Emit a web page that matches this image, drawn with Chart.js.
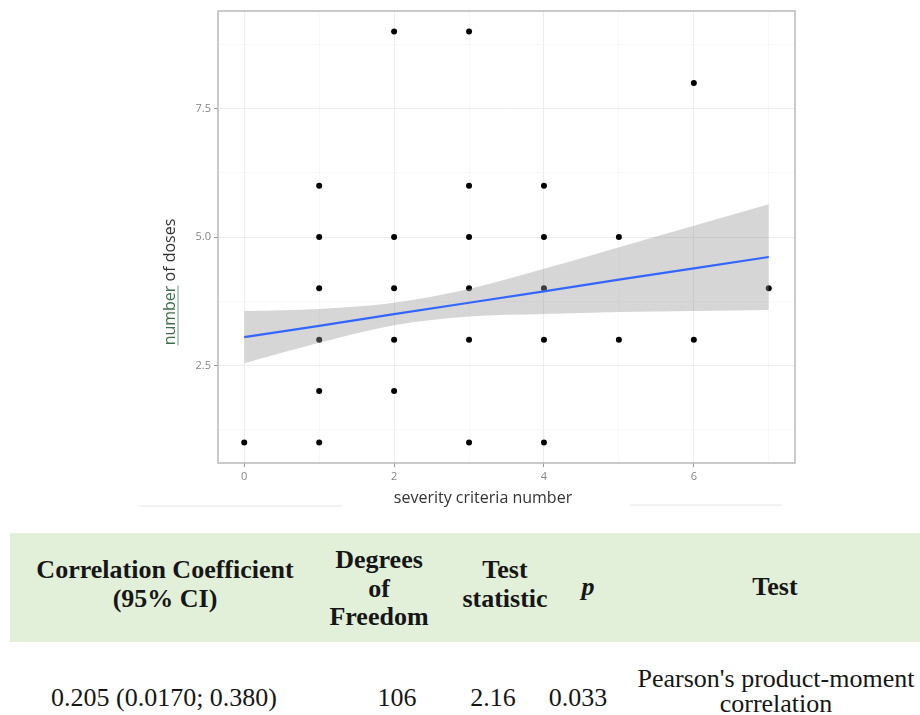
<!DOCTYPE html>
<html>
<head>
<meta charset="utf-8">
<script src="https://cdn.jsdelivr.net/npm/chart.js@4.4.1/dist/chart.umd.min.js"></script>
<style>
  html, body { margin:0; padding:0; background:#fff; width:920px; height:715px; overflow:hidden; position:relative; }
  #chartBox { position:absolute; left:0; top:0; width:920px; height:520px; }
  .band { position:absolute; left:10px; top:533px; width:910px; height:109px; background:#e2f0d9; }
  .cell { position:absolute; font-family:"Liberation Serif","Times New Roman",serif; font-size:26px; line-height:28.5px;
          color:#161616; text-align:center; white-space:nowrap; transform:translateX(-50%); }
  .hd { font-weight:bold; }
</style>
</head>
<body>
<div id="chartBox"><canvas id="scatterChart" width="920" height="520"></canvas></div>

<div class="band"></div>
<div class="cell hd" style="left:165px;top:556px">Correlation Coefficient<br>(95% CI)</div>
<div class="cell hd" style="left:379px;top:546px">Degrees<br>of<br>Freedom</div>
<div class="cell hd" style="left:505px;top:556px">Test<br>statistic</div>
<div class="cell hd" style="left:588px;top:573px"><i>p</i></div>
<div class="cell hd" style="left:775px;top:573px">Test</div>

<div class="cell" style="left:164px;top:684px">0.205 (0.0170; 0.380)</div>
<div class="cell" style="left:397px;top:684px">106</div>
<div class="cell" style="left:493px;top:684px">2.16</div>
<div class="cell" style="left:578px;top:684px">0.033</div>
<div class="cell" style="left:776px;top:667px;line-height:24.7px">Pearson's product-moment<br>correlation</div>

<script>
// observed points (overplotted duplicates shown once)
const severity = [0, 1,1,1,1,1,1, 2,2,2,2,2, 3,3,3,3,3,3, 4,4,4,4,4, 5,5, 6,6, 7];
const doses    = [1, 6,5,4,3,2,1, 9,5,4,3,2, 9,6,5,4,3,1, 6,5,4,3,1, 5,3, 8,3, 4];

// linear fit and 95% band
const fitX    = [0, 1, 2, 3, 4, 5, 6, 7];
const fitY    = [3.05, 3.27, 3.50, 3.72, 3.94, 4.17, 4.39, 4.61];
const lowerCI = [2.54, 2.94, 3.28, 3.45, 3.50, 3.54, 3.56, 3.58];
const upperCI = [3.56, 3.60, 3.72, 3.99, 4.38, 4.80, 5.22, 5.64];

const xTickValues = [0, 1, 2, 3, 4, 5, 6, 7];
const xTickLabels = ['0', '', '2', '', '4', '', '6', ''];
const yTickValues = [1.25, 2.5, 3.75, 5, 6.25, 7.5, 8.75];
const yTickLabels = ['', '2.5', '', '5.0', '', '7.5', ''];

const toXY = (xs, ys) => xs.map((x, i) => ({ x, y: ys[i] }));

const panelDeco = {
  id: 'panelDeco',
  afterDatasetsDraw(chart) {
    const { ctx, chartArea: a } = chart;
    ctx.save();
    ctx.strokeStyle = '#b4b4b4';
    ctx.lineWidth = 1.4;
    ctx.strokeRect(a.left, a.top, a.right - a.left, a.bottom - a.top);
    ctx.restore();
  },
  afterDraw(chart) {
    const ctx = chart.ctx;
    ctx.save();
    ctx.font = '16px "Open Sans"';
    ctx.textBaseline = 'middle';
    ctx.fillStyle = '#333';
    ctx.textAlign = 'center';
    ctx.fillText('severity criteria number', 483, 498);

    // rotated y title, first word marked green
    ctx.translate(170, 282);
    ctx.rotate(-Math.PI / 2);
    const w1 = ctx.measureText('number').width;
    const w2 = ctx.measureText(' of doses').width;
    const x0 = -(w1 + w2) / 2;
    ctx.textAlign = 'left';
    ctx.fillStyle = '#3f6e4c';
    ctx.fillText('number', x0, 0);
    ctx.fillStyle = '#333';
    ctx.fillText(' of doses', x0 + w1, 0);
    ctx.strokeStyle = '#6fa07c';
    ctx.lineWidth = 1;
    ctx.beginPath();
    ctx.moveTo(x0, 8); ctx.lineTo(x0 + w1, 8);
    ctx.stroke();
    ctx.restore();

    // faint leftover rules under the plot
    ctx.save();
    ctx.strokeStyle = '#e4e4e4';
    ctx.lineWidth = 1;
    ctx.beginPath();
    ctx.moveTo(140, 506); ctx.lineTo(342, 506);
    ctx.moveTo(630, 505); ctx.lineTo(782, 505);
    ctx.stroke();
    ctx.restore();
  }
};

new Chart(document.getElementById('scatterChart'), {
  type: 'scatter',
  data: {
    datasets: [
      {
        label: 'upper', data: toXY(fitX, upperCI), showLine: true, borderWidth: 0, pointRadius: 0,
        cubicInterpolationMode: 'monotone', fill: '+1', backgroundColor: 'rgba(153,153,153,0.4)', order: 3
      },
      {
        label: 'lower', data: toXY(fitX, lowerCI), showLine: true, borderWidth: 0, pointRadius: 0,
        cubicInterpolationMode: 'monotone', fill: false, order: 3
      },
      {
        label: 'fit', data: toXY(fitX, fitY), showLine: true, borderColor: '#3366FF', borderWidth: 2.2,
        pointRadius: 0, fill: false, order: 1
      },
      {
        label: 'points', data: toXY(severity, doses), pointRadius: 3, pointBackgroundColor: '#000',
        pointBorderWidth: 0, order: 4
      }
    ]
  },
  options: {
    responsive: false,
    animation: false,
    events: [],
    layout: { padding: { left: 0, right: 125, top: 11, bottom: 0 } },
    plugins: { legend: { display: false }, tooltip: { enabled: false } },
    scales: {
      x: {
        type: 'linear', min: -0.35, max: 7.35,
        afterBuildTicks: s => { s.ticks = xTickValues.map(v => ({ value: v })); },
        afterFit: s => { s.height = 57; },
        border: { display: false },
        grid: {
          color: c => xTickLabels[c.index] ? '#ececec' : '#f5f5f5',
          lineWidth: c => xTickLabels[c.index] ? 1 : 0.7,
          tickColor: c => xTickLabels[c.index] ? '#9a9a9a' : 'rgba(0,0,0,0)',
          tickLength: 4
        },
        ticks: {
          autoSkip: false, maxRotation: 0, padding: 3,
          callback: (v, i) => xTickLabels[i],
          color: '#858585', font: { family: 'Open Sans', size: 11 }
        }
      },
      y: {
        type: 'linear', min: 0.6, max: 9.4,
        afterBuildTicks: s => { s.ticks = yTickValues.map(v => ({ value: v })); },
        afterFit: s => { s.width = 218; },
        border: { display: false },
        grid: {
          color: c => yTickLabels[c.index] ? '#ececec' : '#f5f5f5',
          lineWidth: c => yTickLabels[c.index] ? 1 : 0.7,
          tickColor: c => yTickLabels[c.index] ? '#9a9a9a' : 'rgba(0,0,0,0)',
          tickLength: 4
        },
        ticks: {
          autoSkip: false, padding: 3,
          callback: (v, i) => yTickLabels[i],
          color: '#858585', font: { family: 'Open Sans', size: 11 }
        }
      }
    }
  },
  plugins: [panelDeco]
});
</script>
</body>
</html>
